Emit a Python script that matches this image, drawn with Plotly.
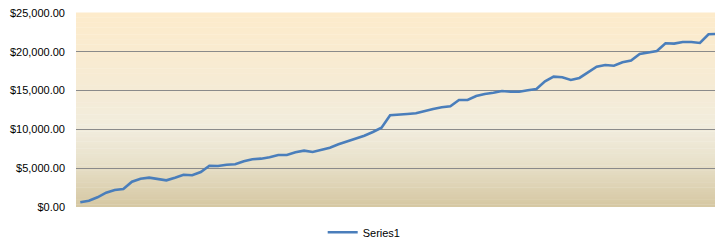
import plotly.graph_objects as go

values = [600, 810, 1250, 1850, 2190, 2320, 3260, 3650, 3780, 3610,
          3440, 3780, 4160, 4090, 4510, 5320, 5285, 5450, 5500, 5890,
          6150, 6230, 6400, 6700, 6700, 7050, 7260, 7090, 7390, 7650,
          8080, 8470, 8770, 9190, 9670, 10220, 11820, 11860, 11990, 12080,
          12380, 12630, 12850, 12980, 13790, 13790, 14310, 14570, 14730, 14950,
          14860, 14860, 15040, 15210, 16200, 16800, 16720, 16370, 16630, 17360,
          18080, 18300, 18210, 18650, 18860, 19720, 19940, 20110, 21100, 21050,
          21270, 21270, 21140, 22260, 22300]
categories = list(range(1, len(values) + 1))
series_name = "Series1"
y_ticks = [0, 5000, 10000, 15000, 20000, 25000]

# gradient stops (fraction from top, rgb)
stops = [(0.0, (253, 235, 203)), (0.35, (246, 235, 212)), (0.6, (241, 236, 221)),
         (0.76, (233, 226, 204)), (1.0, (213, 199, 162))]

def color_at(f):
    for (f0, c0), (f1, c1) in zip(stops[:-1], stops[1:]):
        if f0 <= f <= f1:
            t = (f - f0) / (f1 - f0) if f1 > f0 else 0
            return "rgb(%d,%d,%d)" % tuple(round(a + (b - a) * t) for a, b in zip(c0, c1))
    return "rgb(%d,%d,%d)" % stops[-1][1]

shapes = []
n = 80
for i in range(n):
    y1 = 1 - i / n
    y0 = 1 - (i + 1) / n
    shapes.append(dict(type="rect", xref="paper", yref="paper", x0=0, x1=1,
                       y0=y0, y1=y1 + 0.002, fillcolor=color_at((i + 0.5) / n),
                       line=dict(width=0), layer="below"))

fig = go.Figure()
fig.add_trace(go.Scatter(
    x=[c - 1 for c in categories], y=values, mode="lines", name=series_name,
    line=dict(color="#4a7ebb", width=2.6), showlegend=True))

fig.update_layout(
    width=715, height=246,
    margin=dict(l=76, r=0, t=13, b=39, autoexpand=False),
    paper_bgcolor="white", plot_bgcolor="rgba(0,0,0,0)",
    font=dict(family="Liberation Sans, Arial, sans-serif", size=11, color="#000000"),
    shapes=shapes,
    showlegend=True,
    legend=dict(orientation="h", x=0.451, xanchor="center", y=-0.13, yanchor="middle",
                font=dict(size=11), bgcolor="rgba(0,0,0,0)", itemwidth=30),
    xaxis=dict(range=[-0.5, (715 - 75.7) / 8.61 - 0.5], showticklabels=False,
               showgrid=False, zeroline=False, showline=False, ticks="", automargin=False),
    yaxis=dict(range=[0, 25000], tickvals=y_ticks, tickformat="$,.2f",
               showgrid=True, gridcolor="#8a8a8a", gridwidth=1, zeroline=False,
               showline=False, ticks="", ticklabelstandoff=10, automargin=False),
)
fig.write_html("out.html", config={"displayModeBar": False},
               post_script="document.body.style.margin='0';document.body.style.padding='0';")
